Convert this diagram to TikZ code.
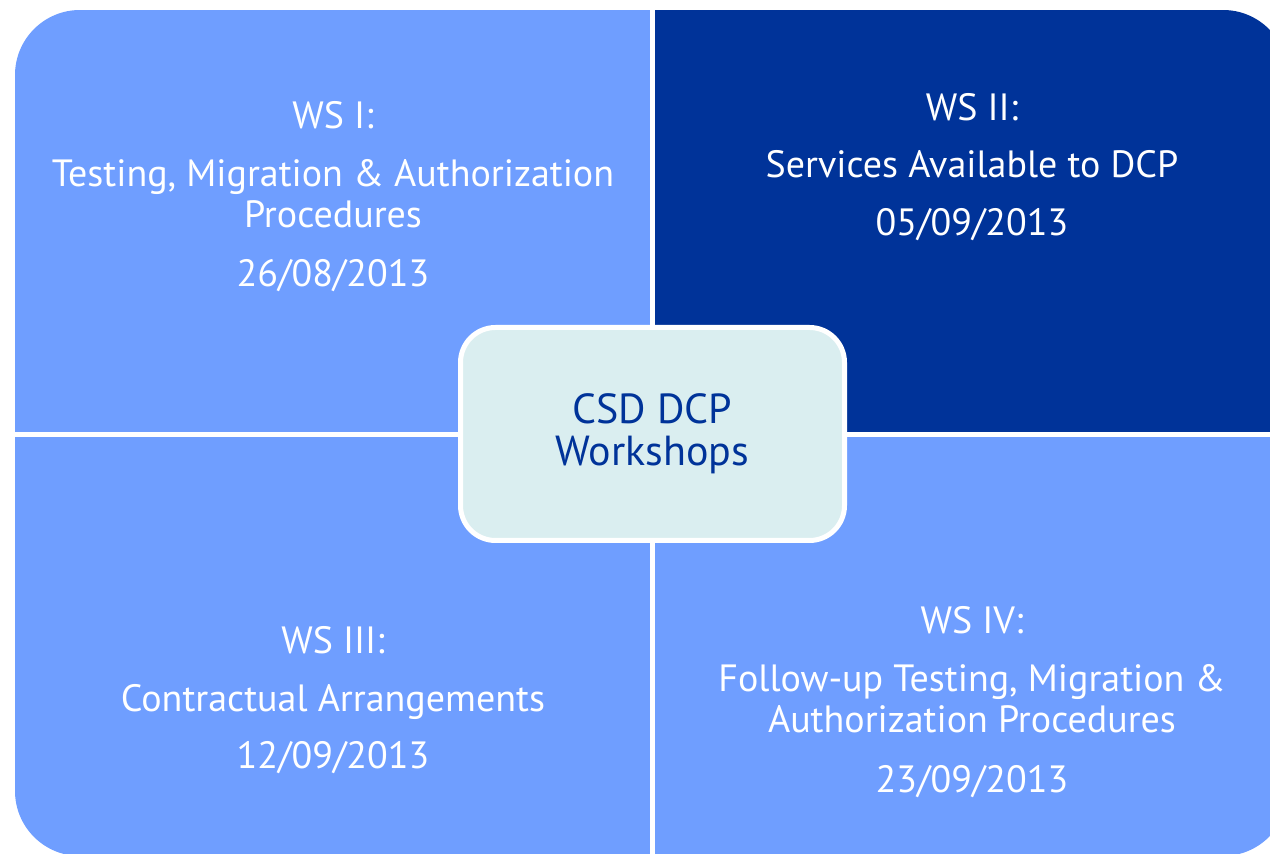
\documentclass[tikz,border=0pt]{standalone}
\usepackage{fontspec}
\setmainfont{PT Sans}
\definecolor{wslight}{RGB}{111,158,255}
\definecolor{wsdark}{RGB}{0,51,153}
\definecolor{hubfill}{RGB}{218,238,240}
\tikzset{
	wstext/.style={text=white,align=center,anchor=base,inner sep=0pt,
		font=\fontsize{38}{41}\selectfont},
	hub/.style={rectangle,draw=white,line width=5pt,fill=hubfill,
		rounded corners=35pt,minimum width=384pt,minimum height=213pt,
		text=wsdark,align=center,font=\fontsize{42}{42}\selectfont}
}
\begin{document}
\begin{tikzpicture}[x=1pt,y=1pt]
	\useasboundingbox (0,0) rectangle (1270,854);
	\begin{scope}
		\clip[rounded corners=65pt] (15,-2) rectangle (1288,844);
		\fill[wslight] (15,422) rectangle (650,844);
		\fill[wsdark] (655,422) rectangle (1288,844);
		\fill[wslight] (15,-2) rectangle (650,417);
		\fill[wslight] (655,-2) rectangle (1288,417);
	\end{scope}
	% base anchor sits on the last line (the date)
	\node[wstext] (ws1) at (333,567) {WS I:\\[17pt]Testing, Migration \& Authorization\\Procedures\\[18pt]26/08/2013};
	\node[wstext] (ws2) at (972,618) {WS II:\\[16pt]Services Available to DCP\\[17pt]05/09/2013};
	\node[wstext] (ws3) at (333,85) {WS III:\\[17pt]Contractual Arrangements\\[16pt]12/09/2013};
	\node[wstext] (ws4) at (972,61) {WS IV:\\[17pt]Follow-up Testing, Migration \&\\Authorization Procedures\\[19pt]23/09/2013};
	\node[hub] (hub) at (652.5,420) {CSD DCP\\Workshops};
\end{tikzpicture}
\end{document}
